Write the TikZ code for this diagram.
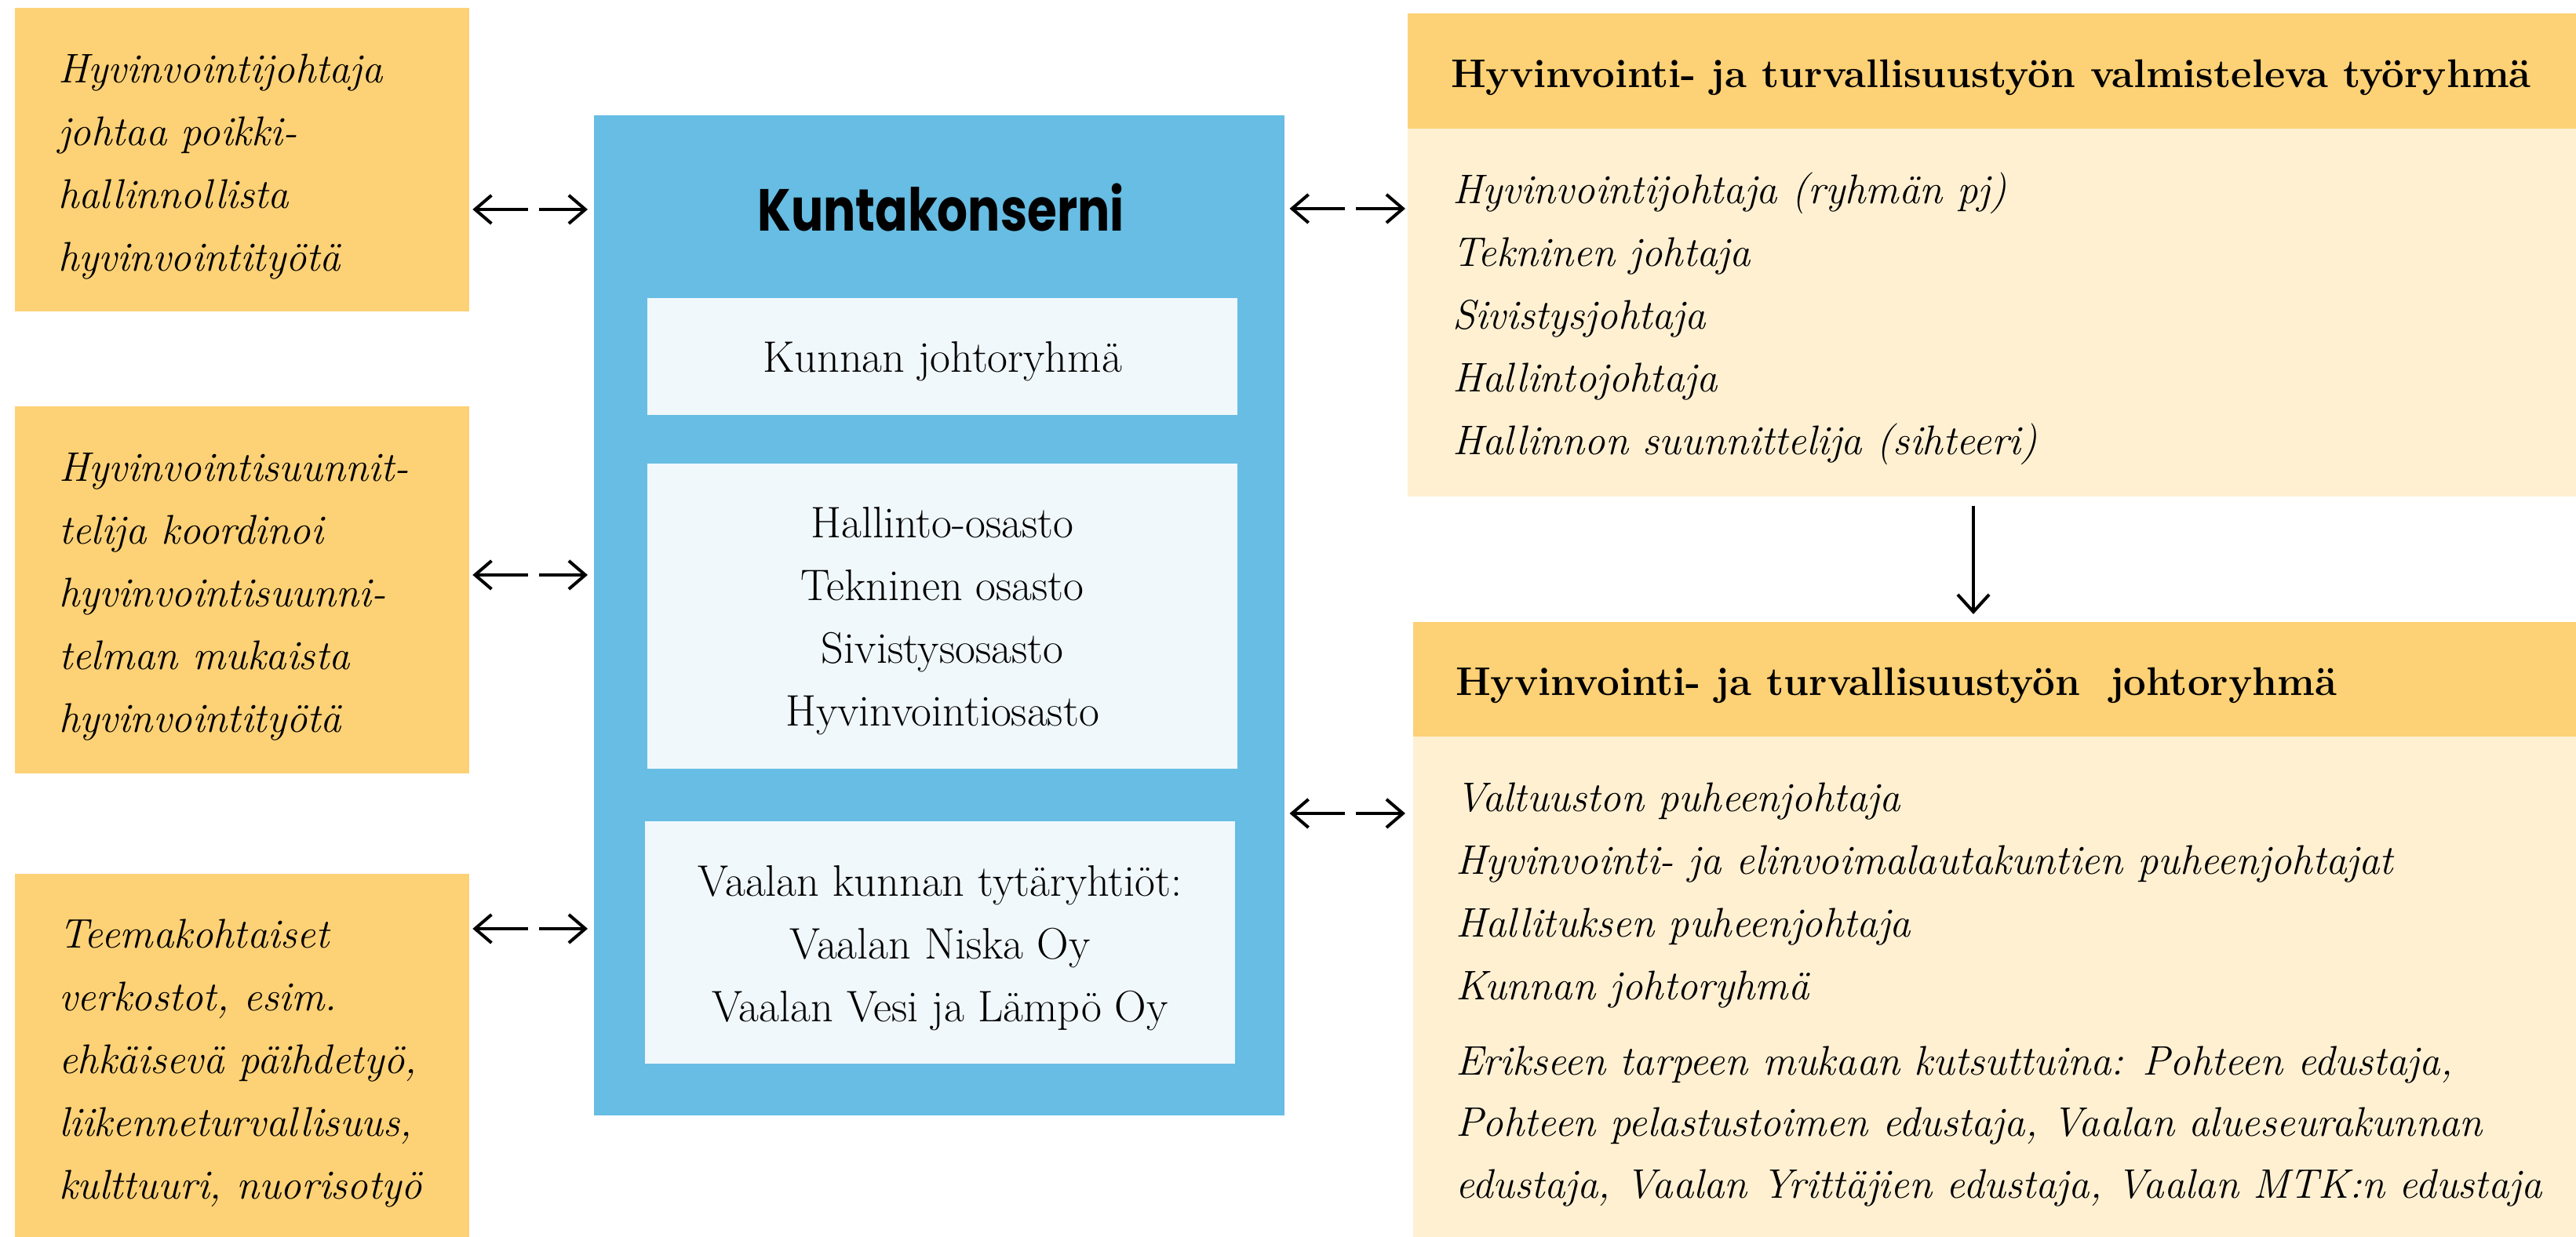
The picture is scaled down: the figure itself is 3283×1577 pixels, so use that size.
\documentclass[tikz,border=0pt]{standalone}
\usepackage{fontspec}
\usepackage{graphicx}
\usetikzlibrary{arrows.meta}
\newfontfamily\kfont{Poppins}
\definecolor{orng}{HTML}{FDD175}
\definecolor{cream}{HTML}{FFF0D2}
\definecolor{kblue}{HTML}{67BDE3}
\definecolor{pale}{HTML}{F1F8FC}
\tikzset{
  panel/.style={inner sep=0, outer sep=0, anchor=north west, draw=none},
  itxt/.style={inner sep=0, outer sep=0, anchor=north west, align=left, font=\fontsize{15}{22.76}\selectfont\itshape},
  rtxt/.style={inner sep=0, outer sep=0, anchor=north, align=center, font=\fontsize{16}{22.76}\selectfont},
  htxt/.style={inner sep=0, outer sep=0, anchor=base west, font=\fontsize{14.5}{20}\selectfont\bfseries},
  biarrow/.style={line width=0.04cm, {Straight Barb[length=0.21cm,width=0.36cm]}-{Straight Barb[length=0.21cm,width=0.36cm]}, dash pattern=on 0.655cm off 0.14cm},
  downarrow/.style={line width=0.04cm, -{Straight Barb[length=0.22cm,width=0.4cm]}}
}
\begin{document}
\begin{tikzpicture}[x=0.01cm, y=-0.01cm]
\useasboundingbox (0,0) rectangle (3283,1577);
% left boxes
\node[panel, fill=orng, minimum width=5.79cm, minimum height=3.87cm] (b1) at (19,10) {};
\node[panel, fill=orng, minimum width=5.79cm, minimum height=4.68cm] (b2) at (19,518) {};
\node[panel, fill=orng, minimum width=5.79cm, minimum height=4.63cm] (b3) at (19,1114) {};
\node[itxt] (t1) at (74,49) {\strut Hyvinvointijohtaja\\\strut johtaa poikki-\\\strut hallinnollista\\\strut hyvinvointityötä};
\node[itxt] (t2) at (75,557) {\strut Hyvinvointisuunnit-\\\strut telija koordinoi\\\strut hyvinvointisuunni-\\\strut telman mukaista\\\strut hyvinvointityötä};
\node[itxt] (t3) at (75,1152) {\strut Teemakohtaiset\\\strut verkostot, esim.\\\strut ehkäisevä päihdetyö,\\\strut liikenneturvallisuus,\\\strut kulttuuri, nuorisotyö};
% central block
\node[panel, fill=kblue, minimum width=8.79cm, minimum height=12.74cm] (blue) at (757,147) {};
\node[inner sep=0, anchor=base] (kt) at (1199,295) {\scalebox{0.81}[1]{\fontsize{21.5}{25}\selectfont\kfont\bfseries Kuntakonserni}};
\node[panel, fill=pale, minimum width=7.52cm, minimum height=1.49cm] (ia) at (825,380) {};
\node[panel, fill=pale, minimum width=7.52cm, minimum height=3.89cm] (ib) at (825,591) {};
\node[panel, fill=pale, minimum width=7.52cm, minimum height=3.09cm] (ic) at (822,1047) {};
\node[rtxt, anchor=base] (ta) at (1201,475) {Kunnan johtoryhmä};
\node[rtxt] (tb) at (1201,629) {\strut Hallinto-osasto\\\strut Tekninen osasto\\\strut Sivistysosasto\\\strut Hyvinvointiosasto};
\node[rtxt] (tc) at (1198,1086) {\strut Vaalan kunnan tytäryhtiöt:\\\strut Vaalan Niska Oy\\\strut Vaalan Vesi ja Lämpö Oy};
% right top
\node[panel, fill=orng, minimum width=14.89cm, minimum height=1.47cm] (r1h) at (1794,17) {};
\node[panel, fill=cream, minimum width=14.89cm, minimum height=4.69cm] (r1b) at (1794,164) {};
\node[htxt] (r1ht) at (1849,112) {Hyvinvointi- ja turvallisuustyön valmisteleva työryhmä};
\node[itxt] (r1t) at (1851,203) {\strut Hyvinvointijohtaja (ryhmän pj)\\\strut Tekninen johtaja\\\strut Sivistysjohtaja\\\strut Hallintojohtaja\\\strut Hallinnon suunnittelija (sihteeri)};
% right bottom
\node[panel, fill=orng, minimum width=14.82cm, minimum height=1.46cm] (r2h) at (1801,793) {};
\node[panel, fill=cream, minimum width=14.82cm, minimum height=6.38cm] (r2b) at (1801,939) {};
\node[htxt] (r2ht) at (1855,887) {Hyvinvointi- ja turvallisuustyön\ \ johtoryhmä};
\node[itxt] (r2t) at (1855,978) {\strut Valtuuston puheenjohtaja\\\strut Hyvinvointi- ja elinvoimalautakuntien puheenjohtajat\\\strut Hallituksen puheenjohtaja\\\strut Kunnan johtoryhmä};
\node[itxt, font=\fontsize{15}{22.4}\selectfont\itshape] (r2e) at (1855,1315) {\strut Erikseen tarpeen mukaan kutsuttuina: Pohteen edustaja,\\\strut Pohteen pelastustoimen edustaja, Vaalan alueseurakunnan\\\strut edustaja, Vaalan Yrittäjien edustaja, Vaalan MTK:n edustaja};
% connectors
\coordinate (y1) at (0,267);
\coordinate (y2) at (0,733);
\coordinate (y3) at (0,1184);
\coordinate (y4) at (0,266);
\coordinate (y5) at (0,1037);
\coordinate (dx) at (2515,0);
\draw[biarrow, shorten <=0.04cm, shorten >=0.08cm] (b1.east |- y1) -- (blue.west |- y1);
\draw[biarrow, shorten <=0.04cm, shorten >=0.08cm] (b2.east |- y2) -- (blue.west |- y2);
\draw[biarrow, shorten <=0.04cm, shorten >=0.08cm] (b3.east |- y3) -- (blue.west |- y3);
\draw[biarrow, shorten <=0.07cm, shorten >=0.03cm] (blue.east |- y4) -- (r1b.west |- y4);
\draw[biarrow, shorten <=0.07cm, shorten >=0.10cm] (blue.east |- y5) -- (r2b.west |- y5);
\draw[downarrow, shorten <=0.12cm, shorten >=0.10cm] (r1b.south -| dx) -- (r2h.north -| dx);
\end{tikzpicture}
\end{document}
